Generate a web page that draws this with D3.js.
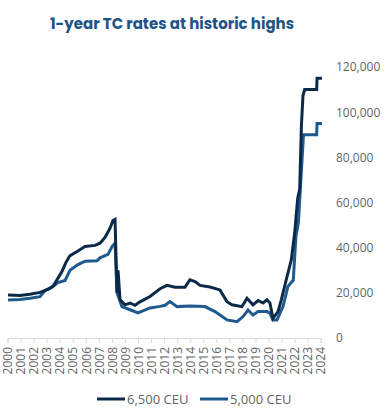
<!DOCTYPE html>
<html>
<head>
<meta charset="utf-8">
<script src="https://cdn.jsdelivr.net/npm/d3@7"></script>
<style>
  html, body { margin: 0; padding: 0; background: #ffffff; }
  svg { display: block; }
</style>
</head>
<body>
<svg id="chart" width="391" height="417"></svg>
<script>
// ---- Data (decimal year, value in USD/day) ----
const yearTicks = d3.range(2000, 2025);
const valueTicks = [0, 20000, 40000, 60000, 80000, 100000, 120000];

const seriesNames = ["6,500 CEU", "5,000 CEU"];
const seriesColors = ["#0b2a4a", "#1f5a8e"];

const dates6500 = [2000.04, 2000.96, 2001.72, 2002.49, 2003.1, 2003.5, 2003.87, 2004.18, 2004.48, 2004.79,
  2005.4, 2005.94, 2006.7, 2007.09, 2007.47, 2007.85, 2008.08, 2008.24, 2008.39, 2008.47,
  2008.62, 2009.0, 2009.39, 2009.77, 2010.15, 2010.92, 2011.69, 2012.22, 2012.84, 2013.6,
  2013.98, 2014.37, 2014.75, 2015.52, 2016.28, 2016.82, 2017.2, 2017.97, 2018.35, 2018.81,
  2019.2, 2019.58, 2019.88, 2020.11, 2020.34, 2020.73, 2020.98, 2021.36, 2021.75, 2022.01,
  2022.14, 2022.24, 2022.39, 2022.52, 2022.64, 2022.77, 2023.69, 2023.72, 2024.1];
const values6500 = [19000, 18800, 19400, 20200, 21500, 23000, 26500, 29500, 33500, 36500,
  38500, 40500, 41000, 42000, 44500, 48500, 52000, 52500, 20000, 30000,
  17000, 14700, 15500, 14500, 16000, 18400, 21800, 23300, 22500, 22500,
  25800, 25000, 23300, 22600, 21300, 16100, 14700, 13900, 17600, 14700,
  16600, 15500, 16900, 15500, 8700, 11700, 16900, 25800, 34700, 46700,
  55500, 62000, 65800, 93900, 107200, 110000, 110000, 115000, 115000];

const dates5000 = [2000.04, 2000.96, 2001.72, 2002.49, 2002.87, 2003.41, 2003.87, 2004.41, 2004.79, 2005.4,
  2005.94, 2006.86, 2007.09, 2007.7, 2008.01, 2008.24, 2008.39, 2008.77, 2009.39, 2010.0,
  2010.92, 2011.69, 2012.07, 2012.45, 2012.99, 2013.98, 2015.13, 2015.9, 2016.28, 2016.82,
  2017.59, 2018.05, 2018.43, 2018.81, 2019.2, 2019.88, 2020.11, 2020.34, 2020.65, 2021.11,
  2021.49, 2021.8, 2021.9, 2022.1, 2022.29, 2022.68, 2023.69, 2023.72, 2024.1];
const values5000 = [16800, 17100, 17600, 18300, 21000, 22500, 24500, 25500, 30000, 32500,
  34000, 34200, 35500, 37000, 40500, 42000, 20000, 13900, 12500, 11100,
  13300, 14000, 14500, 16100, 13900, 14200, 13900, 11700, 10200, 8000,
  7200, 9500, 12400, 10200, 11700, 11700, 11000, 8000, 8000, 13900,
  22800, 25000, 25500, 45000, 51000, 90000, 90000, 95000, 95000];

// ---- Layout ----
const svg = d3.select("#chart");
const x = d3.scaleLinear().domain([2000, 2024]).range([7.5, 320.7]);
const y = d3.scaleLinear().domain([0, 120000]).range([338, 67]);

const gray = "#646464";

// Title
svg.append("text")
  .attr("x", 172).attr("y", 29)
  .attr("text-anchor", "middle")
  .attr("font-family", "Poppins, 'Open Sans', sans-serif")
  .attr("font-weight", 700)
  .attr("font-size", 15)
  .attr("fill", "#1e5487")
  .text("1-year TC rates at historic highs");

// Right y-axis labels (no line)
const yAxis = d3.axisRight(y).tickValues(valueTicks).tickSize(0).tickPadding(0)
  .tickFormat(d3.format(","));
const gy = svg.append("g").attr("transform", "translate(336,0)").call(yAxis);
gy.select(".domain").remove();
gy.selectAll("text")
  .attr("font-family", "'Open Sans', sans-serif")
  .attr("font-size", 12)
  .attr("fill", gray);

// Bottom x-axis
const xAxis = d3.axisBottom(x).tickValues(yearTicks).tickSize(5).tickPadding(4)
  .tickFormat(d3.format("d"));
const gx = svg.append("g").attr("transform", "translate(0,338)").call(xAxis);
gx.select(".domain").attr("stroke", "#d9d9d9");
gx.selectAll(".tick line").attr("stroke", "#d9d9d9");
gx.selectAll("text")
  .attr("font-family", "'Open Sans', sans-serif")
  .attr("font-size", 12)
  .attr("fill", gray)
  .attr("text-anchor", "end")
  .attr("dy", "0.35em")
  .attr("transform", "translate(0,9) rotate(-90)")
  .attr("x", 0).attr("y", 0);

// Lines
const line = d3.line().x(d => x(d[0])).y(d => y(d[1]));
const data = [
  d3.zip(dates6500, values6500),
  d3.zip(dates5000, values5000)
];
[1, 0].forEach(i => {
  svg.append("path")
    .datum(data[i])
    .attr("fill", "none")
    .attr("stroke", seriesColors[i])
    .attr("stroke-width", 3)
    .attr("stroke-linejoin", "miter")
    .attr("d", line);
});

// Legend
const legendItems = [{x: 97}, {x: 200}];
seriesNames.forEach((name, i) => {
  const g = svg.append("g").attr("transform", `translate(${legendItems[i].x},399)`);
  g.append("line").attr("x1", 0).attr("x2", 28).attr("y1", 0).attr("y2", 0)
    .attr("stroke", seriesColors[i]).attr("stroke-width", 3);
  g.append("text").attr("x", 30).attr("y", 0).attr("dy", "0.35em")
    .attr("font-family", "'Open Sans', sans-serif")
    .attr("font-size", 13)
    .attr("fill", gray)
    .text(name);
});
</script>
</body>
</html>
